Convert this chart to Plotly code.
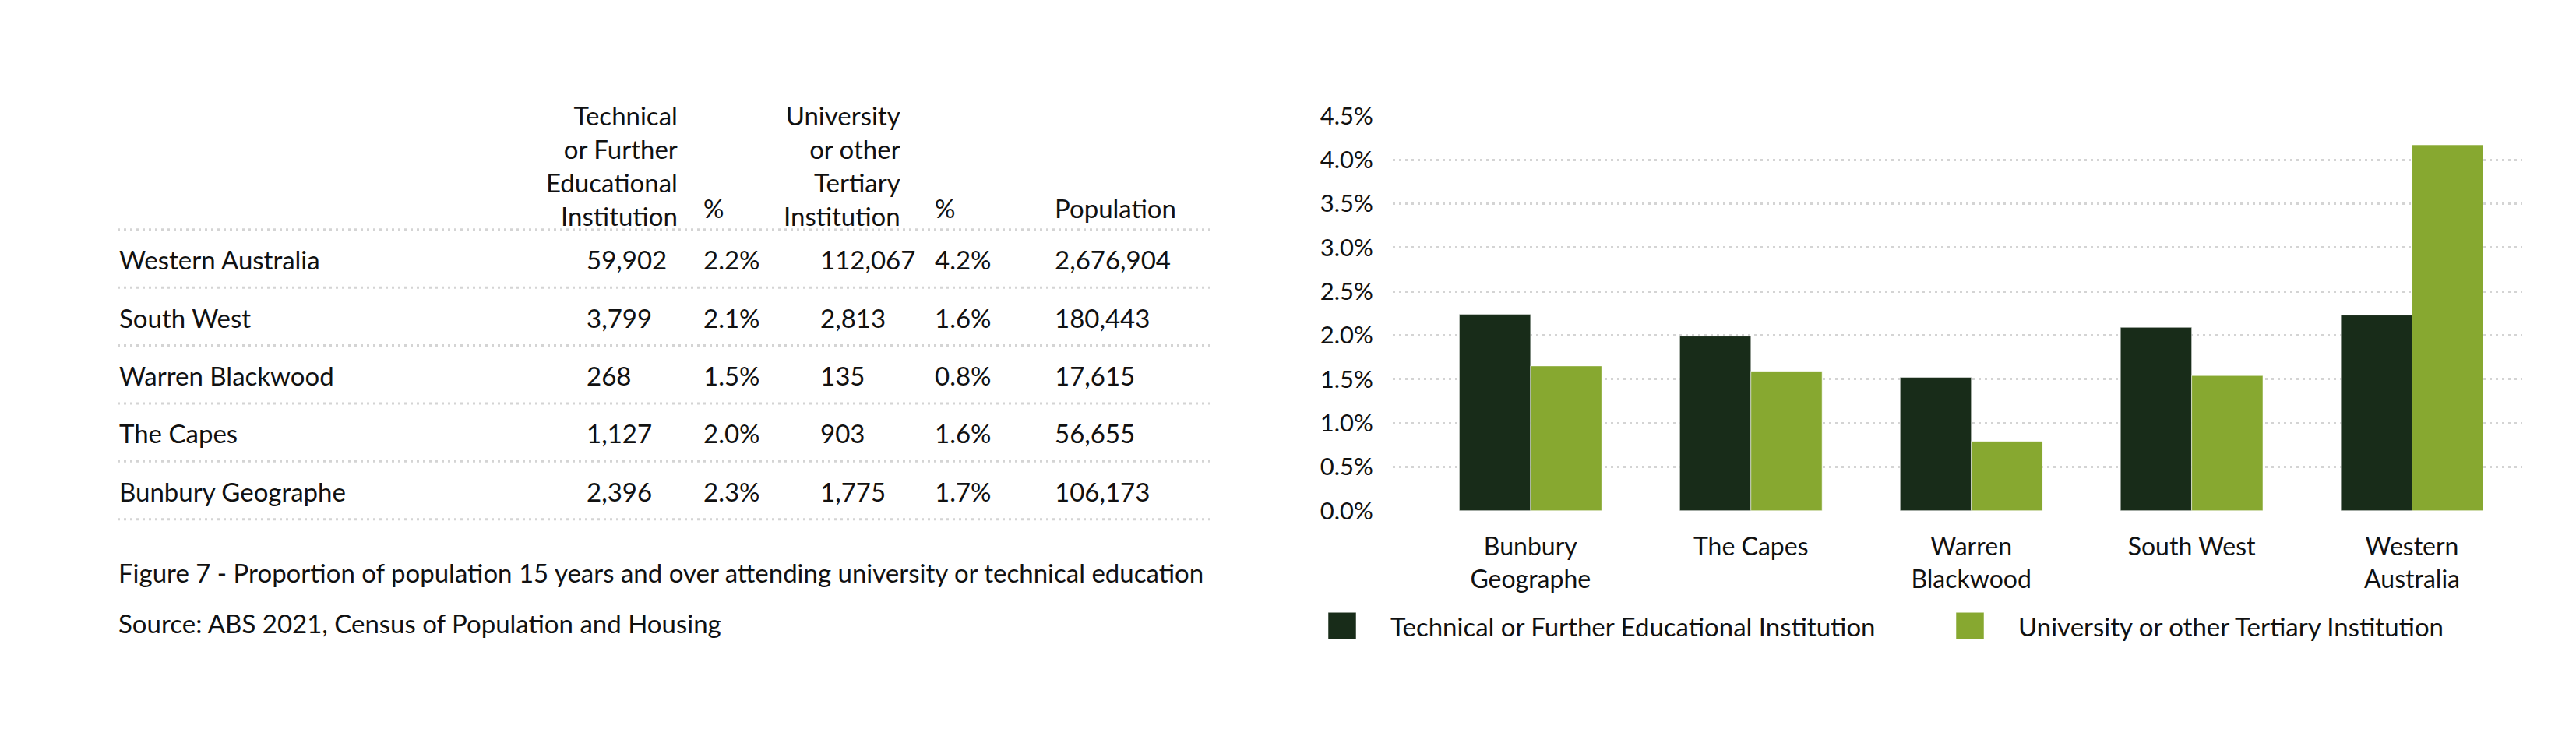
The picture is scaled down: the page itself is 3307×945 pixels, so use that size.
import plotly.graph_objects as go

# ----------------------------------------------------------------------------------------------------------------------
#  DATA
# ----------------------------------------------------------------------------------------------------------------------
# table (top to bottom)
regions    = ["Western Australia", "South West", "Warren Blackwood", "The Capes", "Bunbury Geographe"]
tech_count = [59902, 3799, 268, 1127, 2396]
tech_pct   = [2.2, 2.1, 1.5, 2.0, 2.3]
univ_count = [112067, 2813, 135, 903, 1775]
univ_pct   = [4.2, 1.6, 0.8, 1.6, 1.7]
population = [2676904, 180443, 17615, 56655, 106173]

header_tech = "Technical<br>or Further<br>Educational<br>Institution"
header_univ = "University<br>or other<br>Tertiary<br>Institution"

# chart (left to right)
categories  = ["Bunbury<br>Geographe", "The Capes", "Warren<br>Blackwood", "South West", "Western<br>Australia"]
tech_share  = [0.0224, 0.0199, 0.0152, 0.0209, 0.0223]
univ_share  = [0.0165, 0.0159, 0.0079, 0.0154, 0.0417]
series_names = ["Technical or Further Educational Institution", "University or other Tertiary Institution"]
series_colors = ["#182C19", "#87A830"]

caption = "Figure 7 - Proportion of population 15 years and over attending university or technical education"
source  = "Source: ABS 2021, Census of Population and Housing"

# ----------------------------------------------------------------------------------------------------------------------
#  LAYOUT HELPERS
# ----------------------------------------------------------------------------------------------------------------------
W, H = 3307, 945
OFF_X, OFF_Y = 8, 0      # page offset of the plot div
FONT = "Lato"
TXT = "#111111"
DOT = "#d4d4d4"
FS = 33                  # table / caption / legend text


def px(x):
    return (x - OFF_X) / W


def py(y):
    return 1 - (y - OFF_Y) / H


fig = go.Figure()

# bars
for name, vals, col in zip(series_names, [tech_share, univ_share], series_colors):
    fig.add_trace(go.Bar(x=categories, y=vals, name=name, marker_color=col,
                         marker_line=dict(color="rgba(255,255,255,0.5)", width=1),
                         showlegend=False, hoverinfo="skip"))

fig.update_layout(
    width=W, height=H, autosize=False,
    margin=dict(l=0, r=0, t=0, b=0),
    paper_bgcolor="white", plot_bgcolor="white",
    font=dict(family=FONT, color=TXT, size=FS),
    barmode="group", bargap=0.354, bargroupgap=0,
)
fig.update_xaxes(type="category", domain=[px(1788), px(3238)], range=[-0.625, 4.5],
                 showgrid=False, zeroline=False, showline=False,
                 ticks="outside", ticklen=18, tickcolor="rgba(0,0,0,0)",
                 tickfont=dict(size=32, color=TXT))
fig.update_yaxes(domain=[py(654), py(126)], range=[0, 0.045], dtick=0.005, tickformat=".1%",
                 showgrid=True, gridcolor=DOT, gridwidth=3, griddash="3px,5px",
                 zeroline=False, showline=False,
                 ticks="outside", ticklen=18, tickcolor="rgba(0,0,0,0)",
                 tickfont=dict(size=31, color=TXT))

# legend (drawn by hand so the swatches can be large squares)
legend_x = [(1705, 1783), (2511, 2589)]
for (sx, tx), name, col in zip(legend_x, series_names, series_colors):
    fig.add_shape(type="rect", xref="paper", yref="paper",
                  x0=px(sx), x1=px(sx + 36), y0=py(826), y1=py(790),
                  fillcolor=col, line=dict(color="rgba(255,255,255,0.5)", width=1))
    fig.add_annotation(x=px(tx), y=py(808), xref="paper", yref="paper", text=name,
                       showarrow=False, xanchor="left", yanchor="middle", font=dict(size=FS))

# ----------------------------------------------------------------------------------------------------------------------
#  TABLE
# ----------------------------------------------------------------------------------------------------------------------
col_x = dict(label=151, tech=751, tpct=901, univ=1051, upct=1198, pop=1352)
row_y0, row_dy = 318, 77.5
line_y0 = 278

# headers
fig.add_annotation(x=px(872), y=py(192), xref="paper", yref="paper", text=header_tech, showarrow=False,
                   xanchor="right", yanchor="middle", align="right", font=dict(size=FS))
fig.add_annotation(x=px(1158), y=py(192), xref="paper", yref="paper", text=header_univ, showarrow=False,
                   xanchor="right", yanchor="middle", align="right", font=dict(size=FS))
for key, txt in [("tpct", "%"), ("upct", "%"), ("pop", "Population")]:
    fig.add_annotation(x=px(col_x[key]), y=py(249), xref="paper", yref="paper", text=txt, showarrow=False,
                       xanchor="left", yanchor="middle", font=dict(size=FS))

# dotted rules
for i in range(len(regions) + 1):
    y = line_y0 + i * row_dy
    fig.add_shape(type="line", xref="paper", yref="paper", x0=px(151), x1=px(1556), y0=py(y), y1=py(y),
                  line=dict(color=DOT, width=3, dash="3px,5px"))

# rows
for i, reg in enumerate(regions):
    y = py(row_y0 + i * row_dy)
    cells = [("label", reg),
             ("tech", f"{tech_count[i]:,}"),
             ("tpct", f"{tech_pct[i]:.1f}%"),
             ("univ", f"{univ_count[i]:,}"),
             ("upct", f"{univ_pct[i]:.1f}%"),
             ("pop", f"{population[i]:,}")]
    for key, txt in cells:
        fig.add_annotation(x=px(col_x[key]), y=y, xref="paper", yref="paper", text=txt, showarrow=False,
                           xanchor="left", yanchor="middle", font=dict(size=FS))

# caption
fig.add_annotation(x=px(150), y=py(737), xref="paper", yref="paper", text=caption, showarrow=False,
                   xanchor="left", yanchor="middle", font=dict(size=FS))
fig.add_annotation(x=px(150), y=py(804), xref="paper", yref="paper", text=source, showarrow=False,
                   xanchor="left", yanchor="middle", font=dict(size=FS))

fig.write_html("out.html")
